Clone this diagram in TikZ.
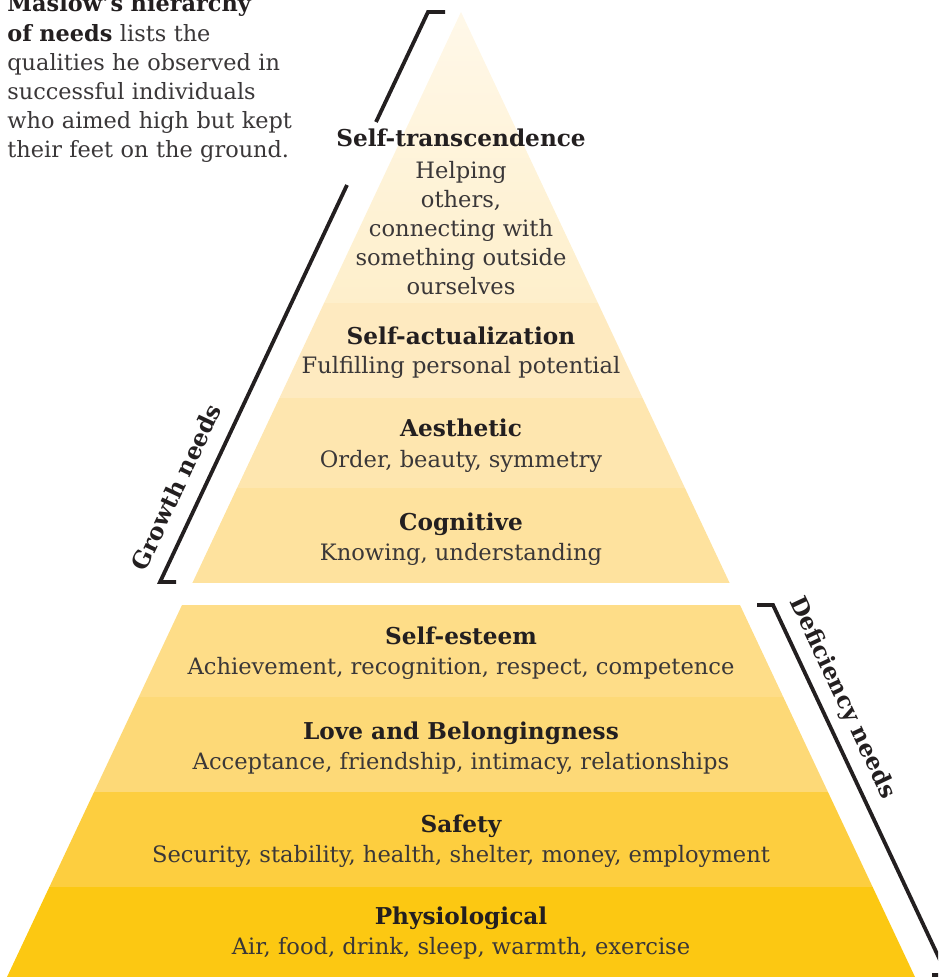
\documentclass[tikz,border=0pt]{standalone}
\usepackage{fontspec}
\setmainfont{DejaVu Serif}
\usepackage{xcolor}
\usepackage{tikz}
\usetikzlibrary{positioning,calc}
\definecolor{tiertop}{HTML}{FFF8E9}
\definecolor{tierone}{HTML}{FEEFCB}
\definecolor{tiertwo}{HTML}{FEEAC0}
\definecolor{tierthree}{HTML}{FEE6AF}
\definecolor{tierfour}{HTML}{FEE29E}
\definecolor{tierfive}{HTML}{FEDD88}
\definecolor{tiersix}{HTML}{FDD977}
\definecolor{tierseven}{HTML}{FDCE3F}
\definecolor{tiereight}{HTML}{FCC812}
\definecolor{inkdark}{HTML}{231F20}
\definecolor{inkgrey}{HTML}{3A3738}
\tikzstyle{tiertitle} = [font=\bfseries\fontsize{11.6}{14.6}\selectfont, text=inkdark, inner sep=0pt, anchor=base]
\tikzstyle{tierdesc} = [font=\fontsize{11.3}{14.6}\selectfont, text=inkgrey, inner sep=0pt, anchor=base, align=center]
\tikzstyle{sidelabel} = [font=\bfseries\fontsize{11.7}{13}\selectfont, text=inkdark, inner sep=0pt]
\tikzstyle{bracket} = [line width=1.9pt, inkdark]

\begin{document}
\begin{tikzpicture}[x=0.5pt, y=-0.5pt]
\useasboundingbox (0,0) rectangle (938,977);
\clip (0,0) rectangle (938,977);

% pyramid tiers
\coordinate (apex) at (461,12);
\coordinate (baseleft) at (7,977);
\coordinate (baseright) at (915,977);
\begin{scope}
\clip (apex) -- (baseright) -- (baseleft) -- cycle;
\shade[top color=tiertop, bottom color=tierone] (0,12) rectangle (938,303);
\foreach \ytop/\ybot/\col in {303/398/tiertwo, 398/488/tierthree, 488/583/tierfour,
    605/697/tierfive, 697/792/tiersix, 792/887/tierseven, 887/977/tiereight}
  \fill[\col] (0,\ytop) rectangle (938,\ybot);
\end{scope}

% intro text
\node[font=\fontsize{11.2}{14.6}\selectfont, text=inkgrey, align=left, text width=170pt,
    inner sep=0pt, anchor=base west] (intro) at (7,12)
  {\textcolor{inkdark}{\bfseries Maslow’s hierarchy}\\
   \textcolor{inkdark}{\bfseries of needs} lists the\\
   qualities he observed in\\
   successful individuals\\
   who aimed high but kept\\
   their feet on the ground.};

% tier labels
\node[tiertitle] (transcend) at (461,147) {Self-transcendence};
\node[tierdesc] (transcenddesc) at (461,295) {Helping\\ others,\\ connecting with\\ something outside\\ ourselves};
\node[tiertitle] (actual) at (461,345) {Self-actualization};
\node[tierdesc] (actualdesc) at (461,374) {Fulfilling personal potential};
\node[tiertitle] (aesthetic) at (461,437) {Aesthetic};
\node[tierdesc] (aestheticdesc) at (461,467) {Order, beauty, symmetry};
\node[tiertitle] (cognitive) at (461,530) {Cognitive};
\node[tierdesc] (cognitivedesc) at (461,560) {Knowing, understanding};
\node[tiertitle] (esteem) at (461,644) {Self-esteem};
\node[tierdesc] (esteemdesc) at (461,674) {Achievement, recognition, respect, competence};
\node[tiertitle] (love) at (461,739) {Love and Belongingness};
\node[tierdesc] (lovedesc) at (461,769) {Acceptance, friendship, intimacy, relationships};
\node[tiertitle] (safety) at (461,832) {Safety};
\node[tierdesc] (safetydesc) at (461,862) {Security, stability, health, shelter, money, employment};
\node[tiertitle] (physio) at (461,924) {Physiological};
\node[tierdesc] (physiodesc) at (461,954) {Air, food, drink, sleep, warmth, exercise};

% growth bracket
\coordinate (gtick) at (445,12);
\coordinate (gtop) at (428,12);
\coordinate (gbreaka) at (376,122);
\coordinate (gbreakb) at (347,185);
\coordinate (gbot) at (160,582);
\coordinate (gbottick) at (176,582);
\draw[bracket] (gtick) -- (gtop) -- (gbreaka);
\draw[bracket] (gbreakb) -- (gbot) -- (gbottick);
\node[sidelabel, rotate=64.8] (growth) at (176,487) {Growth needs};

% deficiency bracket
\coordinate (dtick) at (757,605);
\coordinate (dtop) at (773,605);
\coordinate (dbot) at (947,975);
\coordinate (dbottick) at (932,975);
\draw[bracket] (dtick) -- (dtop) -- (dbot) -- (dbottick);
\node[sidelabel, rotate=-64.8] (deficiency) at (842,698) {Deficiency needs};
\end{tikzpicture}
\end{document}
